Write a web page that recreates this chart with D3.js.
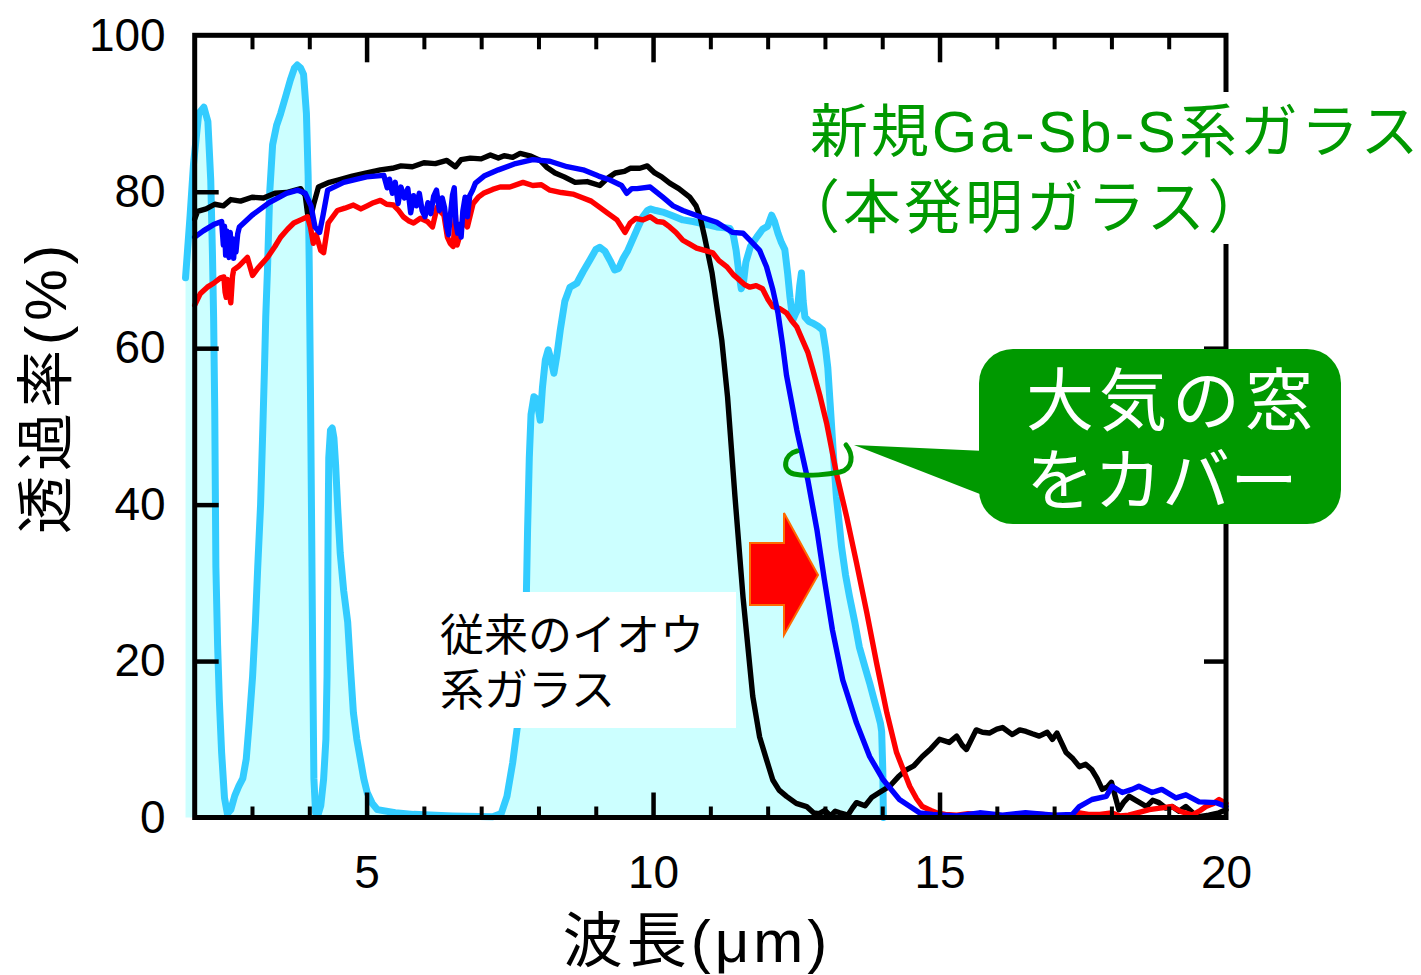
<!DOCTYPE html>
<html lang="ja">
<head>
<meta charset="utf-8">
<script src="https://cdn.jsdelivr.net/npm/d3@7"></script>
<style>
  body { margin: 0; background: #fff; }
  svg { display: block; }
  text { font-family: "Liberation Sans", "Noto Sans CJK JP", sans-serif; }
</style>
</head>
<body>
<svg id="chart" width="1421" height="975"></svg>
<script>
// ---- axis ticks ----
const wavelengthLabels = [5, 10, 15, 20];
const wavelengthMinor = d3.range(3, 20);
const transmittanceLabels = [0, 20, 40, 60, 80, 100];
const transmittanceInner = [20, 40, 60, 80];

// ---- spectra: [wavelength (µm), transmittance (%)] ----
// atmospheric transmission (filled)
const atmosphere = [
  [1.84,69],[1.92,77],[1.98,83.6],[2.07,90],[2.16,90.8],[2.23,89],[2.28,81.5],[2.31,72],[2.33,64],[2.35,52],
  [2.36,42],[2.37,32],[2.40,22],[2.43,15],[2.47,8.3],[2.52,2.5],[2.57,0.5],[2.63,1],[2.70,2.8],[2.77,4],
  [2.84,5],[2.90,7.5],[2.95,12],[3.01,18],[3.06,25],[3.10,32],[3.15,40],[3.19,50],[3.22,58],[3.24,64],
  [3.27,70],[3.31,80],[3.36,86],[3.43,88.5],[3.50,90],[3.58,92],[3.67,94.3],[3.74,95.8],[3.79,96.2],[3.85,95.8],
  [3.90,95],[3.95,90],[3.98,82],[4.00,70],[4.02,55],[4.04,38],[4.06,20],[4.08,5],[4.11,0.6],[4.15,0.3],
  [4.20,1.5],[4.25,4.9],[4.29,10],[4.31,18],[4.32,28],[4.33,38],[4.34,46],[4.37,49.5],[4.40,49.8],[4.43,48.5],
  [4.46,45],[4.50,39],[4.54,33.8],[4.60,29],[4.67,25],[4.72,19],[4.77,13.4],[4.83,10],[4.89,7.5],[4.95,5],
  [5.01,3.2],[5.10,1.8],[5.19,1],[5.5,0.6],[5.82,0.4],[6.5,0.2],[7.2,0.1],[7.35,0.5],[7.45,2.7],[7.55,7],
  [7.63,11.5],[7.72,20],[7.79,28.9],[7.81,36.8],[7.84,46],[7.87,51.5],[7.92,53.8],[7.97,53.5],[8.03,50.8],[8.07,55],
  [8.12,58.5],[8.17,59.8],[8.22,58.5],[8.27,56.8],[8.32,59],[8.38,62.3],[8.46,66],[8.55,67.8],[8.67,68.3],[8.78,69.8],
  [8.90,71.3],[9.00,72.6],[9.07,72.9],[9.16,72.4],[9.25,71.2],[9.33,70],[9.40,70.2],[9.48,71.5],[9.56,72.5],[9.65,74],
  [9.74,75.5],[9.82,76.8],[9.90,77.6],[9.95,77.8],[10.05,77.6],[10.17,77.4],[10.35,76.9],[10.52,76.4],[10.70,76.2],[10.82,76],
  [11.0,75.7],[11.11,75.5],[11.25,75.4],[11.34,75.3],[11.40,74.5],[11.45,72.5],[11.50,69.5],[11.54,67.6],[11.58,68.5],[11.62,71],
  [11.70,73],[11.81,74.2],[11.91,75.2],[12.00,75.6],[12.07,77],[12.12,76.2],[12.18,74.7],[12.24,73.5],[12.30,72.6],[12.35,69.5],
  [12.39,66.5],[12.44,63.6],[12.48,64.3],[12.52,64.9],[12.56,68],[12.59,69.6],[12.62,66],[12.65,64],[12.72,63.4],[12.79,63.2],
  [12.88,62.8],[12.96,62.3],[13.01,60],[13.05,57.5],[13.09,53],[13.12,49.6],[13.16,45],[13.20,41],[13.25,37.5],[13.29,34.6],
  [13.36,31],[13.43,28.2],[13.52,25],[13.60,21.8],[13.70,19.2],[13.78,17.2],[13.86,15],[13.92,13.4],[13.97,12],[13.99,11],
  [14.01,6],[14.02,0]
];

// conventional sulfur-based glass (black)
const sulfurGlass = [
  [2.00,76.5],[2.05,77.5],[2.2,77.8],[2.35,78.4],[2.5,78.2],[2.63,79],[2.8,78.8],[3.0,79.3],[3.2,79.2],[3.4,79.8],
  [3.6,79.9],[3.85,80.4],[3.93,79.5],[3.97,77.2],[4.02,76.6],[4.08,78.5],[4.16,80.6],[4.35,81.2],[4.5,81.5],[4.75,82],
  [5.0,82.4],[5.24,82.8],[5.45,83],[5.6,83.3],[5.8,83.2],[6.0,83.7],[6.2,83.6],[6.4,84],[6.55,83.2],[6.65,84.1],
  [6.81,84.3],[7.0,84.2],[7.16,84.7],[7.3,84.3],[7.4,84.6],[7.55,84.4],[7.68,84.9],[7.85,84.6],[8.03,84],[8.15,83.1],
  [8.29,82.4],[8.45,81.9],[8.64,81.2],[8.85,81.3],[9.07,80.8],[9.2,81.7],[9.34,82.4],[9.5,82.6],[9.6,83],[9.77,83],
  [9.9,83.3],[10.03,82.4],[10.15,81.9],[10.29,81.1],[10.45,80.4],[10.64,79.3],[10.75,78.2],[10.82,76.8],[10.90,74.2],[11.03,69.6],
  [11.12,65],[11.20,61],[11.30,53.8],[11.43,41],[11.57,28.2],[11.74,15.5],[11.86,10.3],[11.98,7.4],[12.09,4.8],[12.2,3.5],
  [12.33,2.7],[12.5,1.8],[12.68,1.4],[12.8,0.6],[12.9,0.5],[13.0,0.9],[13.1,0.2],[13.18,0.8],[13.26,0.6],[13.4,0.3],
  [13.48,1.2],[13.55,1.9],[13.7,1.5],[13.82,2.6],[13.95,3.2],[14.13,4],[14.28,5.2],[14.42,6.1],[14.55,6.6],[14.70,7.8],
  [14.85,8.8],[15.00,10],[15.17,9.6],[15.30,10.4],[15.40,9.2],[15.47,8.7],[15.64,11.2],[15.75,10.9],[15.87,10.8],[16.0,11.3],
  [16.10,11.5],[16.27,10.6],[16.4,11.2],[16.51,11],[16.62,10.7],[16.74,10.4],[16.88,10.9],[16.97,10],[17.05,10.8],[17.21,8.3],
  [17.33,7.5],[17.44,6.5],[17.55,6.8],[17.66,6.1],[17.75,5.0],[17.84,3.6],[17.93,3.9],[18.00,4.5],[18.13,1],[18.22,2],
  [18.31,2.7],[18.45,2.1],[18.61,1.4],[18.72,2.2],[18.83,1.9],[18.95,1.2],[19.06,1.4],[19.18,0.8],[19.30,1.4],[19.42,0.6],
  [19.53,0.1],[19.7,0.3],[19.88,0.6],[20.0,1.0]
];

// new Ga-Sb-S glass, sample 1 (blue)
const gaSbSBlue = [
  [2.00,74.2],[2.15,75],[2.33,75.8],[2.47,76.2],[2.50,73.2],[2.52,75.6],[2.54,71.9],[2.56,75],[2.58,72.5],[2.60,71.6],
  [2.62,74.8],[2.64,72.2],[2.66,74],[2.68,71.5],[2.70,73.9],[2.72,72.3],[2.75,74.6],[2.78,75.5],[3.0,77],[3.3,78.6],
  [3.6,79.8],[3.8,80.2],[3.93,79.8],[4.03,78.2],[4.1,75.5],[4.18,74.8],[4.24,77],[4.32,80.2],[4.6,81.2],[5.0,81.9],
  [5.3,82.1],[5.36,80.5],[5.4,81.6],[5.45,79.8],[5.5,81.2],[5.55,78.5],[5.6,80.6],[5.66,79.2],[5.72,80.4],[5.77,77.3],
  [5.82,79.5],[5.87,78.2],[5.92,79.8],[5.97,77.6],[6.02,76.8],[6.07,78.6],[6.12,77.2],[6.17,79.4],[6.22,80.2],[6.27,77.6],
  [6.32,79.2],[6.36,78],[6.40,75.5],[6.43,74.5],[6.46,76.8],[6.50,79.6],[6.53,80.5],[6.56,76],[6.59,74.7],[6.62,75.8],
  [6.65,74.2],[6.68,77.5],[6.72,79.3],[6.76,76.8],[6.80,79.5],[6.85,80.2],[6.9,81.1],[7.05,82],[7.3,82.8],[7.6,83.6],
  [7.9,84.1],[8.2,83.9],[8.5,83.2],[8.78,82.8],[9.05,82],[9.25,81.5],[9.45,80.8],[9.54,79.8],[9.63,80.4],[9.72,80.4],
  [9.95,80.6],[10.17,79.3],[10.35,78.2],[10.52,77.6],[10.82,76.8],[11.11,76.1],[11.39,74.8],[11.57,74.7],[11.69,73.8],[11.86,72.5],
  [11.98,70.4],[12.09,67.5],[12.18,64.5],[12.26,60.5],[12.33,56.5],[12.51,49.5],[12.70,43.2],[12.86,36.8],[12.99,30.4],[13.13,24],
  [13.31,17.6],[13.55,12.1],[13.78,7.8],[14.01,4.9],[14.30,2.3],[14.65,0.6],[14.88,0.4],[15.3,0.2],[15.7,0.6],[16.1,0.3],
  [16.5,0.6],[17.0,0.3],[17.32,0.4],[17.44,1.4],[17.66,2.3],[17.91,2.7],[18.01,4],[18.19,3.2],[18.36,3.6],[18.48,4],
  [18.71,3.2],[18.88,3.6],[19.13,2.5],[19.30,2.9],[19.53,2],[19.83,1.9],[20.0,1.4]
];

// new Ga-Sb-S glass, sample 2 (red)
const gaSbSRed = [
  [2.00,65.5],[2.1,67],[2.22,67.8],[2.33,68.3],[2.45,69],[2.51,69.1],[2.53,67.2],[2.55,66.5],[2.57,68.8],[2.59,68.2],
  [2.61,66.8],[2.63,65.8],[2.66,69.2],[2.68,70],[2.77,70.5],[2.92,71.6],[3.01,69.3],[3.10,70.2],[3.27,71.6],[3.40,73],
  [3.50,74.2],[3.62,75.2],[3.73,76],[3.85,76.4],[3.97,76.8],[4.02,75.5],[4.07,73.4],[4.12,74.5],[4.20,72.5],[4.25,72.2],
  [4.33,76],[4.49,77.6],[4.62,77.9],[4.77,78.3],[4.9,77.8],[5.01,78.2],[5.12,78.6],[5.24,78.9],[5.35,78.4],[5.47,78.3],
  [5.56,77.6],[5.64,76.8],[5.73,76.3],[5.82,76],[5.94,76.6],[6.06,76.2],[6.15,75.5],[6.23,78],[6.3,77.4],[6.35,77],
  [6.41,74.2],[6.46,73.4],[6.51,73],[6.55,77],[6.58,73.2],[6.63,74.5],[6.69,76.5],[6.76,75.5],[6.86,78.5],[6.95,79.3],
  [7.04,79.8],[7.2,80.3],[7.33,80.6],[7.5,80.6],[7.73,81.2],[7.9,80.8],[8.05,80.9],[8.20,80.2],[8.4,79.9],[8.6,79.7],
  [8.78,79.2],[8.92,78.8],[9.07,78],[9.2,77.3],[9.37,76.4],[9.51,74.8],[9.60,76],[9.7,76.6],[9.82,76.4],[9.95,76.8],
  [10.07,76.2],[10.18,76.1],[10.29,75.5],[10.4,74.8],[10.52,73.8],[10.64,73.3],[10.76,72.8],[10.9,72.5],[11.04,72.2],[11.15,71.2],
  [11.29,70.4],[11.4,69.4],[11.51,68.7],[11.60,68.1],[11.69,67.8],[11.80,68],[11.91,67.6],[12.0,66.3],[12.09,65.3],[12.2,65.1],
  [12.33,64.5],[12.42,63.5],[12.51,62.7],[12.61,61],[12.70,59.5],[12.79,57.2],[12.91,54],[13.03,50.4],[13.20,44],[13.38,38.4],
  [13.55,32.6],[13.73,26.2],[13.90,19.8],[14.08,13.4],[14.25,8.3],[14.48,4],[14.60,2.4],[14.70,1.4],[14.85,0.9],[14.95,0.6],
  [15.1,0.4],[15.3,0.3],[15.5,0.5],[15.8,0.4],[16.0,0.2],[16.3,0.2],[16.55,0.5],[16.8,0.4],[17.05,0.2],[17.32,0.2],
  [17.44,0.6],[17.6,0.4],[17.8,0.4],[18.0,0.6],[18.15,0.2],[18.3,0.3],[18.5,0.7],[18.66,1],[18.85,1.2],[19.06,1.4],
  [19.2,0.8],[19.41,0.3],[19.55,0.9],[19.65,1.4],[19.78,1.8],[19.88,2.3],[20.0,1.8]
];

// ---- scales ----
const svg = d3.select("#chart");
const x = d3.scaleLinear().domain([2, 20]).range([194.7, 1226]);
const y = d3.scaleLinear().domain([0, 100]).range([817.5, 35.3]);

const line = d3.line().x(d => x(d[0])).y(d => y(d[1]));
const area = d3.area().x(d => x(d[0])).y0(y(0)).y1(d => y(d[1]));

// atmospheric window: light fill under a cyan outline
svg.append("path").datum(atmosphere)
  .attr("d", area).attr("fill", "#ccffff");
svg.append("path").datum(atmosphere)
  .attr("d", line).attr("fill", "none")
  .attr("stroke", "#33ccff").attr("stroke-width", 7)
  .attr("stroke-linejoin", "round").attr("stroke-linecap", "round");

// label for the conventional glass on a white patch
svg.append("rect").attr("x", 513).attr("y", 592).attr("width", 223).attr("height", 136).attr("fill", "#fff");
const conv = svg.append("text").attr("font-size", 44).attr("fill", "#000");
conv.append("tspan").attr("x", 440).attr("y", 651).text("従来のイオウ");
conv.append("tspan").attr("x", 440).attr("y", 706).text("系ガラス");

// glass spectra
[[sulfurGlass, "#000000"], [gaSbSRed, "#ff0000"], [gaSbSBlue, "#0000ff"]].forEach(([data, color]) => {
  svg.append("path").datum(data)
    .attr("d", line).attr("fill", "none")
    .attr("stroke", color).attr("stroke-width", 5.4)
    .attr("stroke-linejoin", "round").attr("stroke-linecap", "round");
});

// red block arrow showing the shift of the absorption edge
svg.append("polygon")
  .attr("points", "750,543 784,543 784,513 818,575 784,635 784,605 750,605")
  .attr("fill", "#ff0000").attr("stroke", "#ff6a00").attr("stroke-width", 2)
  .attr("stroke-linejoin", "miter");

// ---- frame and ticks ----
function tickAxis(axis, translate, values, size, width) {
  const g = svg.append("g").attr("transform", translate)
    .call(axis.tickValues(values).tickSizeInner(-size).tickSizeOuter(0).tickFormat(""));
  g.select(".domain").remove();
  g.selectAll("line").attr("stroke", "#000").attr("stroke-width", width);
  return g;
}
tickAxis(d3.axisBottom(x), `translate(0,${y(0)})`, wavelengthMinor.filter(v => v % 5), 11, 4);
tickAxis(d3.axisBottom(x), `translate(0,${y(0)})`, [5, 10, 15], 25, 4.5);
tickAxis(d3.axisTop(x), `translate(0,${y(100)})`, wavelengthMinor.filter(v => v % 5), 14, 4);
tickAxis(d3.axisTop(x), `translate(0,${y(100)})`, [5, 10, 15], 27, 4.5);
tickAxis(d3.axisLeft(y), `translate(${x(2)},0)`, transmittanceInner, 24, 4.5);
tickAxis(d3.axisRight(y), `translate(${x(20)},0)`, transmittanceInner, 22, 4.5);

svg.append("rect")
  .attr("x", x(2)).attr("y", y(100))
  .attr("width", x(20) - x(2)).attr("height", y(0) - y(100))
  .attr("fill", "none").attr("stroke", "#000").attr("stroke-width", 5);

// tick labels
const xl = svg.append("g").attr("transform", `translate(0,${y(0)})`)
  .call(d3.axisBottom(x).tickValues(wavelengthLabels).tickSize(0).tickPadding(38).tickFormat(d3.format("d")));
xl.select(".domain").remove();
xl.selectAll("text").attr("font-size", 46).attr("fill", "#000")
  .attr("font-family", "Liberation Sans, Arial, sans-serif");

const yl = svg.append("g").attr("transform", `translate(${x(2)},0)`)
  .call(d3.axisLeft(y).tickValues(transmittanceLabels).tickSize(0).tickPadding(29).tickFormat(d3.format("d")));
yl.select(".domain").remove();
yl.selectAll("text").attr("font-size", 46).attr("fill", "#000")
  .attr("font-family", "Liberation Sans, Arial, sans-serif");

// axis titles
svg.append("text").attr("x", 697).attr("y", 962).attr("text-anchor", "middle")
  .attr("font-size", 60).attr("letter-spacing", 4).attr("fill", "#000").text("波長(μm)");
svg.append("text").attr("transform", "translate(66,387) rotate(-90)").attr("text-anchor", "middle")
  .attr("font-size", 58).attr("letter-spacing", 5).attr("fill", "#000").text("透過率(%)");

// ---- annotations over the frame ----
// green title for the new glass on a white text box
svg.append("rect").attr("x", 800).attr("y", 92).attr("width", 621).attr("height", 152).attr("fill", "#fff");
const title = svg.append("text").attr("font-size", 58).attr("fill", "#009900").attr("letter-spacing", 3);
title.append("tspan").attr("x", 810).attr("y", 152).text("新規Ga-Sb-S系ガラス");
title.append("tspan").attr("x", 782).attr("y", 228).text("（本発明ガラス）");

// green callout
svg.append("path")
  .attr("d", "M797,451 C784,454 781,471 794,474 C808,477 830,474 840,472 C853,469 854,455 846,445")
  .attr("fill", "none").attr("stroke", "#009900").attr("stroke-width", 5)
  .attr("stroke-linecap", "round");
svg.append("polygon").attr("points", "854,445 985,451 985,496").attr("fill", "#009900");
svg.append("rect").attr("x", 979).attr("y", 349).attr("width", 362).attr("height", 175)
  .attr("rx", 34).attr("ry", 34).attr("fill", "#009900");
const call = svg.append("text").attr("font-size", 68).attr("fill", "#fff");
call.append("tspan").attr("x", 1026).attr("y", 425).attr("letter-spacing", 5).text("大気の窓");
call.append("tspan").attr("x", 1026).attr("y", 505).attr("letter-spacing", 0).text("をカバー");
</script>
</body>
</html>
